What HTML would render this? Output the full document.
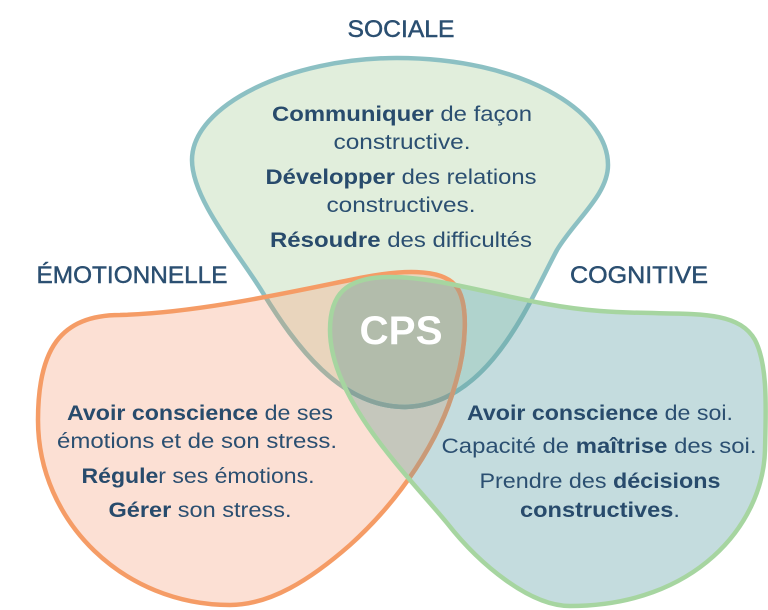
<!DOCTYPE html>
<html><head><meta charset="utf-8">
<style>
html,body{margin:0;padding:0;background:#fff;}
svg{display:block;}
text{font-family:"Liberation Sans",Arial,sans-serif;fill:#2b4f71;}
.h{font-size:24px;stroke:#2b4f71;stroke-width:0.45px;}
.b{font-size:21.5px;}
.bd{font-weight:bold;fill:#284b6c;}
</style></head>
<body>
<svg width="768" height="610" viewBox="0 0 768 610" xmlns="http://www.w3.org/2000/svg">
<defs>
<path id="pS" d="M397,58 C520,58 608,110 608,165 C608,195 575,220 557,250 C530,300 490,405 405,407 C340,407 295,345 263,293 C240,255 192,200 192,160 C192,105 290,58 397,58 Z"/>
<path id="pE" d="M120,315 C200,313 300,290 360,278 C400,270 440,268 455,285 C470,302 466,350 455,385 C440,440 400,500 350,545 C310,580 270,605 230,605 C124,605 38,522 38,420 C38,350 60,315 120,315 Z"/>
<path id="pC" d="M390,277 C450,277 520,305 600,311 C680,317 735,305 755,340 C768,365 766,410 765,450 C763,525 695,606 570,606 C530,606 480,565 447,523 C410,478 330,400 330,330 C330,295 345,277 390,277 Z"/>
<clipPath id="cS"><use href="#pS"/></clipPath>
<clipPath id="cE"><use href="#pE"/></clipPath>
<clipPath id="cC"><use href="#pC"/></clipPath>
</defs>

<!-- fills -->
<use href="#pS" fill="#e1eedc"/>
<use href="#pE" fill="#fce0d4"/>
<use href="#pC" fill="#c4dcde"/>
<use href="#pE" fill="#e9d5bd" clip-path="url(#cS)"/>
<use href="#pC" fill="#b0d3cd" clip-path="url(#cS)"/>
<use href="#pC" fill="#c5c7bc" clip-path="url(#cE)"/>
<g clip-path="url(#cS)"><use href="#pC" fill="#b2bcab" clip-path="url(#cE)"/></g>

<!-- teal stroke -->
<use href="#pS" fill="none" stroke="#8cc0c3" stroke-width="4.5"/>
<g clip-path="url(#cE)"><use href="#pS" fill="none" stroke="#a6b3a4" stroke-width="4.5"/></g>
<g clip-path="url(#cC)"><use href="#pS" fill="none" stroke="#7bb4b5" stroke-width="4.5"/></g>
<g clip-path="url(#cE)"><g clip-path="url(#cC)"><use href="#pS" fill="none" stroke="#88a39b" stroke-width="4.5"/></g></g>

<!-- orange stroke -->
<use href="#pE" fill="none" stroke="#f59c66" stroke-width="4.5"/>
<g clip-path="url(#cC)"><use href="#pE" fill="none" stroke="#c99a78" stroke-width="4.5"/></g>

<!-- green stroke -->
<use href="#pC" fill="none" stroke="#a6d5a0" stroke-width="4.5"/>

<!-- headings -->
<text class="h" x="401" y="37" text-anchor="middle" textLength="107" lengthAdjust="spacingAndGlyphs">SOCIALE</text>
<text class="h" x="132" y="283" text-anchor="middle" textLength="191" lengthAdjust="spacingAndGlyphs">ÉMOTIONNELLE</text>
<text class="h" x="639" y="283" text-anchor="middle" textLength="138" lengthAdjust="spacingAndGlyphs">COGNITIVE</text>

<!-- CPS -->
<text x="401" y="344" text-anchor="middle" style="font-size:40px;font-weight:bold;fill:#ffffff;" textLength="83" lengthAdjust="spacingAndGlyphs">CPS</text>

<!-- social text -->
<text class="b" x="402" y="121" text-anchor="middle" textLength="260" lengthAdjust="spacingAndGlyphs"><tspan class="bd">Communiquer</tspan> de façon</text>
<text class="b" x="402" y="149" text-anchor="middle" textLength="137" lengthAdjust="spacingAndGlyphs">constructive.</text>
<text class="b" x="401" y="184" text-anchor="middle" textLength="271" lengthAdjust="spacingAndGlyphs"><tspan class="bd">Développer</tspan> des relations</text>
<text class="b" x="401" y="212" text-anchor="middle" textLength="149" lengthAdjust="spacingAndGlyphs">constructives.</text>
<text class="b" x="401" y="247" text-anchor="middle" textLength="262" lengthAdjust="spacingAndGlyphs"><tspan class="bd">Résoudre</tspan> des difficultés</text>

<!-- emotional text -->
<text class="b" x="200" y="420" text-anchor="middle" textLength="266" lengthAdjust="spacingAndGlyphs"><tspan class="bd">Avoir conscience</tspan> de ses</text>
<text class="b" x="197" y="448" text-anchor="middle" textLength="280" lengthAdjust="spacingAndGlyphs">émotions et de son stress.</text>
<text class="b" x="198" y="483" text-anchor="middle" textLength="233" lengthAdjust="spacingAndGlyphs"><tspan class="bd">Régule</tspan>r ses émotions.</text>
<text class="b" x="200" y="517" text-anchor="middle" textLength="183" lengthAdjust="spacingAndGlyphs"><tspan class="bd">Gérer</tspan> son stress.</text>

<!-- cognitive text -->
<text class="b" x="600" y="420" text-anchor="middle" textLength="266" lengthAdjust="spacingAndGlyphs"><tspan class="bd">Avoir conscience</tspan> de soi.</text>
<text class="b" x="599" y="453" text-anchor="middle" textLength="315" lengthAdjust="spacingAndGlyphs">Capacité de <tspan class="bd">maîtrise</tspan> des soi.</text>
<text class="b" x="600" y="488" text-anchor="middle" textLength="241" lengthAdjust="spacingAndGlyphs">Prendre des <tspan class="bd">décisions</tspan></text>
<text class="b" x="600" y="517" text-anchor="middle" textLength="160" lengthAdjust="spacingAndGlyphs"><tspan class="bd">constructives</tspan>.</text>
</svg>
</body></html>
